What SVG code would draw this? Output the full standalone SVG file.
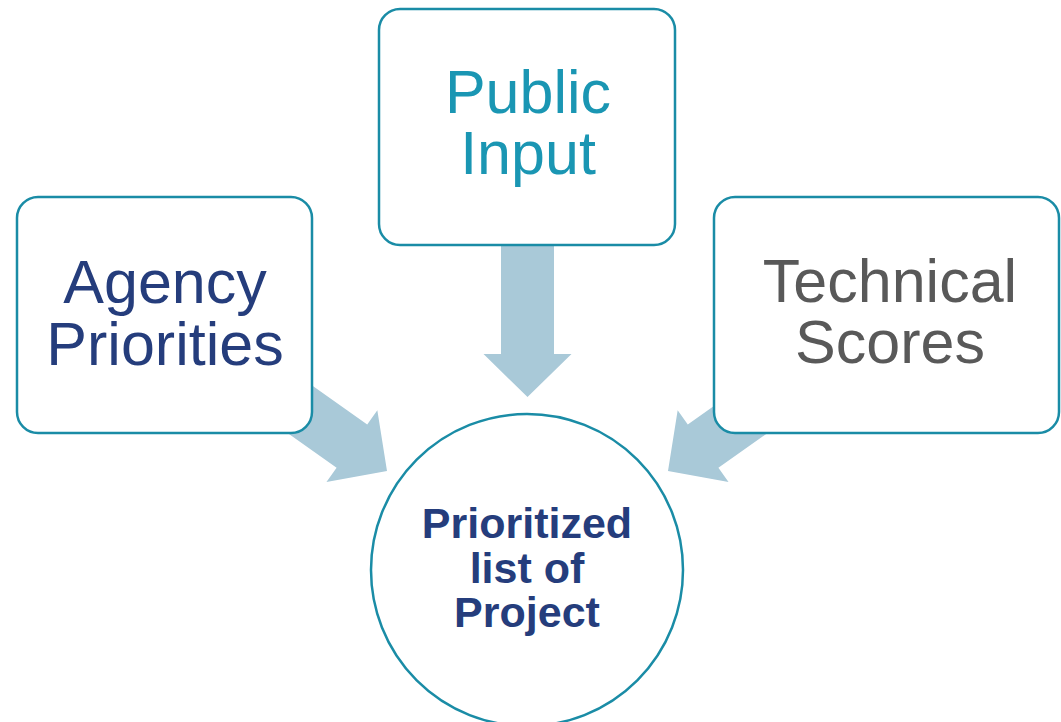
<svg xmlns="http://www.w3.org/2000/svg" width="1061" height="722" viewBox="0 0 1061 722">
<defs>
<style>
.box{fill:#FFFFFF;stroke:#1A8CA6;stroke-width:2.5}
.arr{fill:#A9C9D8}
.t{font-family:"Liberation Sans",Arial,sans-serif;font-size:61px;text-anchor:middle}
.c{font-family:"Liberation Sans",Arial,sans-serif;font-size:43px;font-weight:bold;text-anchor:middle;fill:#253D7C}
</style>
<polygon id="arrowShape" points="-152,-26.5 -43,-26.5 -43,-44 0,0 -43,44 -43,26.5 -152,26.5"/>
</defs>
<rect width="1061" height="722" fill="#FFFFFF"/>
<g id="connectors">
<use href="#arrowShape" class="arr" transform="translate(527.5,397) rotate(90)"/>
<use href="#arrowShape" class="arr" transform="translate(387,471) rotate(35.3)"/>
<use href="#arrowShape" class="arr" transform="translate(668,471) rotate(144.7)"/>
</g>
<g id="agency">
<rect class="box" x="17" y="197" width="295" height="236" rx="21"/>
<text class="t" fill="#253D7C"><tspan x="165" y="303">Agency</tspan><tspan x="165" y="365">Priorities</tspan></text>
</g>
<g id="public">
<rect class="box" x="379" y="9" width="296" height="236" rx="21"/>
<text class="t" fill="#1A96B3" font-size="60"><tspan x="528" y="113">Public</tspan><tspan x="528" y="174">Input</tspan></text>
</g>
<g id="technical">
<rect class="box" x="714" y="197" width="345" height="236" rx="21"/>
<text class="t" fill="#595959"><tspan x="890" y="302">Technical</tspan><tspan x="890" y="363">Scores</tspan></text>
</g>
<g id="result">
<circle class="box" cx="527" cy="570" r="156"/>
<text class="c"><tspan x="527" y="538">Prioritized</tspan><tspan x="527" y="583">list of</tspan><tspan x="527" y="627">Project</tspan></text>
</g>
</svg>
